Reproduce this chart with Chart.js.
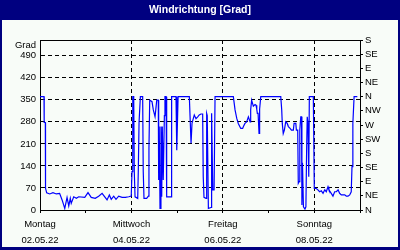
<!DOCTYPE html>
<html>
<head>
<meta charset="utf-8">
<script src="https://cdn.jsdelivr.net/npm/chart.js@4/dist/chart.umd.min.js"></script>
<style>
html, body { margin: 0; padding: 0; background: #000080; }
#wrap { width: 400px; height: 250px; }
</style>
</head>
<body>
<div id="wrap"><canvas id="chart" width="400" height="250"></canvas></div>
<script>
// hours since Mo 02.05.22 00:00
var hours = [
    0, 2.1, 2.2, 2.8, 2.9, 3.5, 5.1, 6.8, 8.6, 10.3, 11.6, 13.0, 14.2, 15.1, 15.9, 16.4, 17.7, 19.1, 20.3, 23.5,
    25.2, 26.9, 29.0, 30.8, 32.6, 34.0, 35.2, 36.4, 37.4, 38.7, 39.9, 41.3, 43.1, 44.8, 46.6, 47.9,
    48.3, 48.7, 49.2, 49.5, 49.9, 51.3, 51.6, 52.0, 52.7, 53.9, 54.2, 54.6, 56.0, 56.9, 57.2, 57.6, 58.8, 59.5,
    60.4, 61.3, 62.1, 62.3, 62.6, 63.0, 63.5, 63.9, 64.2, 64.7, 65.3, 65.6, 66.2, 66.5, 68.8, 69.1, 71.4, 71.8,
    72.5, 78.4, 79.3, 79.8, 81.0, 81.9, 82.8, 83.6, 84.5, 85.4, 85.7, 86.1, 87.2, 87.5, 87.8, 88.4, 89.8, 90.1,
    90.7, 91.4, 91.9, 101.5, 102.4, 103.3, 104.1, 105.4, 106.4, 106.8, 107.6, 108.5, 109.4, 110.3, 110.6, 111.1,
    112.0, 112.9, 113.4, 113.8, 114.1, 114.5, 115.0, 115.3, 115.9, 126.4, 126.9, 127.2, 127.7, 128.3, 129.0,
    129.8, 130.4, 131.3, 132.0, 133.0, 133.4, 134.3, 134.6, 135.3, 135.6, 136.0, 136.4, 136.9, 137.3, 137.5,
    137.8, 138.3, 139.1, 139.6, 140.0, 140.3, 140.7, 141.1, 141.4, 143.5, 144.0, 144.9, 145.9, 146.8, 147.7,
    148.6, 149.5, 150.3, 151.2, 151.7, 152.9, 153.8, 154.7, 155.6, 156.5, 157.3, 158.2, 160.0, 160.8, 161.7,
    162.6, 163.4, 163.8, 164.2, 164.3, 164.9, 166.6
];
var direction = [
    360, 360, 278, 278, 69, 55, 51, 55, 51, 53, 32, 5, 40, 13, 37, 21, 42, 37, 42, 40,
    55, 40, 37, 44, 53, 42, 32, 48, 34, 44, 34, 44, 40, 40, 42, 44,
    122, 360, 360, 122, 42, 37, 122, 278, 360, 360, 122, 37, 37, 44, 197, 349, 344, 318,
    296, 349, 349, 95, 265, 5, 265, 42, 265, 95, 300, 360, 360, 42, 42, 360, 360, 190,
    360, 360, 212, 275, 302, 290, 296, 302, 305, 305, 106, 40, 37, 307, 300, 5, 8, 307,
    64, 64, 360, 360, 318, 291, 275, 259, 259, 265, 275, 280, 296, 280, 318, 349,
    330, 335, 333, 320, 307, 307, 243, 320, 360, 360, 318, 275, 243, 254, 280,
    275, 265, 259, 254, 254, 275, 275, 254, 254, 85, 90, 254, 296, 296, 16,
    150, 10, 3, 10, 200, 296, 275, 106, 360, 360, 69, 69, 64, 58, 61,
    53, 64, 58, 74, 64, 53, 44, 58, 58, 64, 53, 48, 48, 44, 44,
    48, 58, 138, 138, 275, 360, 360
];

var dayTicks = [0, 24, 48, 72, 96, 120, 144, 168];
var dayLabels = [['Montag', '02.05.22'], '', ['Mittwoch', '04.05.22'], '', ['Freitag', '06.05.22'], '', ['Sonntag', '08.05.22'], ''];
var gradTicks = [0, 70, 140, 210, 280, 350, 420, 490];
var compassTicks = [0, 45, 90, 135, 180, 225, 270, 315, 360, 405, 450, 495, 540];
var compassLabels = ['N', 'NE', 'E', 'SE', 'S', 'SW', 'W', 'NW', 'N', 'NE', 'E', 'SE', 'S'];

var points = [];
for (var i = 0; i < hours.length; i++) {
    points.push({x: hours[i], y: direction[i]});
}

var FONT = 'Liberation Sans, Arial, sans-serif';

// frame, title bar, "Grad" label
var framePlugin = {
    id: 'frame',
    beforeDraw: function (chart) {
        var ctx = chart.ctx;
        ctx.save();
        ctx.fillStyle = '#000080';
        ctx.fillRect(0, 0, 400, 250);
        ctx.fillStyle = '#f8fcf8';
        ctx.fillRect(2, 20, 396, 227);
        ctx.fillStyle = '#ffffff';
        ctx.font = 'bold 10.5px ' + FONT;
        ctx.textAlign = 'center';
        ctx.textBaseline = 'middle';
        ctx.fillText('Windrichtung [Grad]', 200, 10);
        ctx.restore();
    },
    afterDraw: function (chart) {
        var ctx = chart.ctx;
        var a = chart.chartArea;
        ctx.save();
        ctx.strokeStyle = '#000';
        ctx.lineWidth = 1;
        ctx.beginPath();
        ctx.moveTo(a.left, a.top + 0.5);
        ctx.lineTo(a.right + 1, a.top + 0.5);
        ctx.stroke();
        ctx.fillStyle = '#000';
        ctx.font = '9.5px ' + FONT;
        ctx.textAlign = 'right';
        ctx.textBaseline = 'middle';
        ctx.fillText('Grad', 36, a.top + 5);
        ctx.restore();
    }
};

new Chart('chart', {
    type: 'line',
    data: {
        datasets: [{
            data: points,
            borderColor: '#0000ff',
            borderWidth: 1.2,
            pointRadius: 0,
            tension: 0,
            fill: false
        }]
    },
    options: {
        responsive: false,
        animation: false,
        devicePixelRatio: 1,
        layout: { padding: { top: 40, left: 0, right: 0, bottom: 0 } },
        plugins: {
            legend: { display: false },
            title: { display: false },
            tooltip: { enabled: false }
        },
        scales: {
            x: {
                type: 'linear',
                position: 'bottom',
                min: 0,
                max: 168,
                afterBuildTicks: function (s) {
                    s.ticks = dayTicks.map(function (v) { return {value: v}; });
                },
                afterFit: function (s) { s.height = 40; },
                ticks: {
                    autoSkip: false,
                    maxRotation: 0,
                    color: '#000',
                    padding: 3,
                    font: { family: FONT, size: 9.5, lineHeight: 1.7 },
                    callback: function (v) { return dayLabels[dayTicks.indexOf(v)]; }
                },
                grid: {
                    color: function (c) {
                        var v = c.tick ? c.tick.value : 0;
                        return (v % 48 === 0 && v > 0 && v < 168) ? '#000' : 'rgba(0,0,0,0)';
                    },
                    tickColor: '#000',
                    tickLength: 3,
                    lineWidth: 1
                },
                border: { color: '#000', width: 1, dash: [4, 3] }
            },
            y: {
                position: 'left',
                min: 0,
                max: 540,
                afterBuildTicks: function (s) {
                    s.ticks = gradTicks.map(function (v) { return {value: v}; });
                },
                afterFit: function (s) { s.width = 40; },
                ticks: {
                    autoSkip: false,
                    color: '#000',
                    padding: 4,
                    font: { family: FONT, size: 9.5 }
                },
                grid: {
                    color: function (c) {
                        var v = c.tick ? c.tick.value : 0;
                        return v > 0 ? '#000' : 'rgba(0,0,0,0)';
                    },
                    drawTicks: false,
                    lineWidth: 1
                },
                border: { color: '#000', width: 1, dash: [4, 3] }
            },
            y2: {
                position: 'right',
                min: 0,
                max: 540,
                afterBuildTicks: function (s) {
                    s.ticks = compassTicks.map(function (v) { return {value: v}; });
                },
                afterFit: function (s) { s.width = 40; },
                ticks: {
                    autoSkip: false,
                    color: '#000',
                    padding: 2,
                    font: { family: FONT, size: 9.5 },
                    callback: function (v) { return compassLabels[compassTicks.indexOf(v)]; }
                },
                grid: {
                    drawOnChartArea: false,
                    tickColor: '#000',
                    tickLength: 3
                },
                border: { color: '#000', width: 1 }
            }
        }
    },
    plugins: [framePlugin]
});
</script>
</body>
</html>
